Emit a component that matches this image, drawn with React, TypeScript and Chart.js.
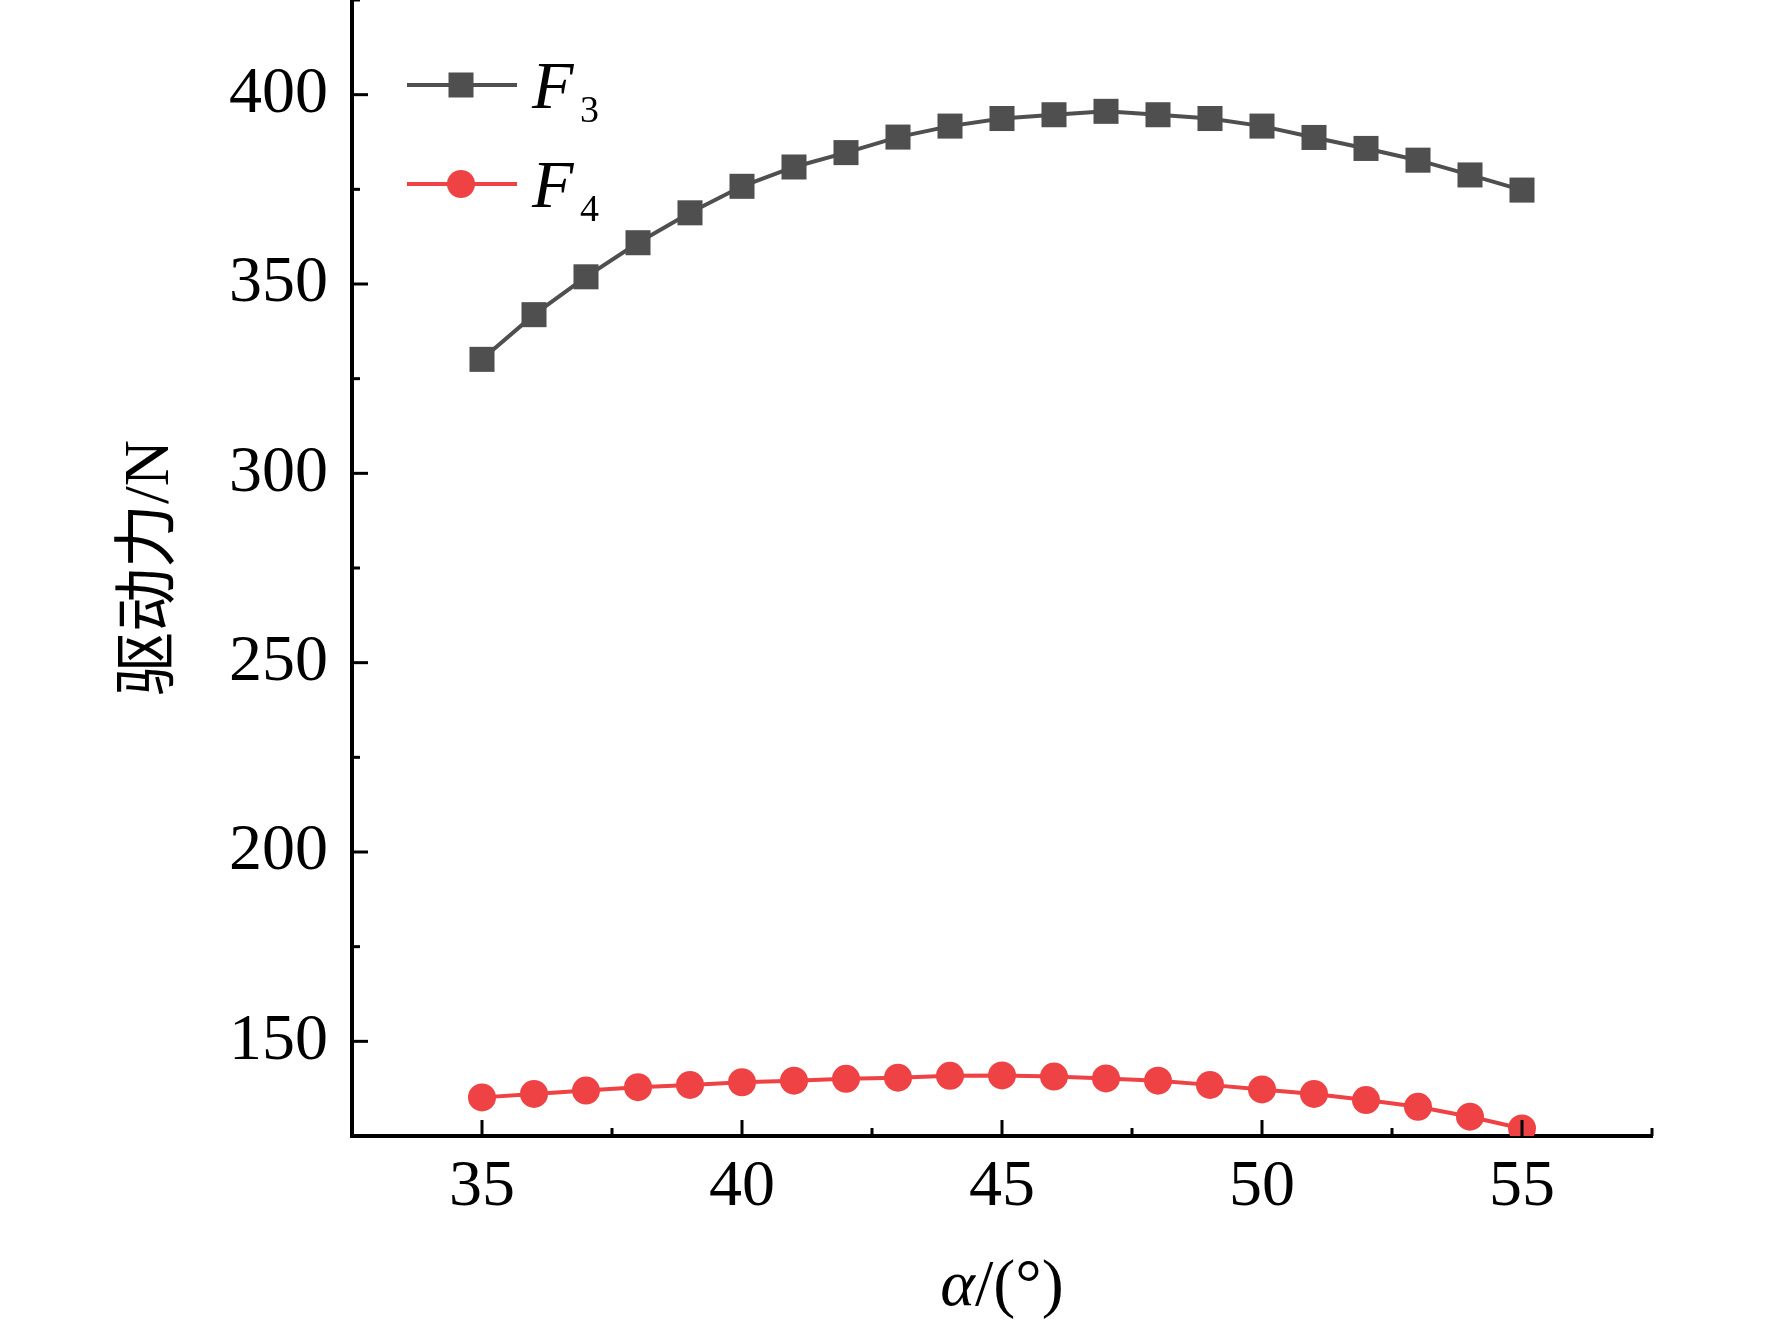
import { useEffect, useRef } from "react"
import { Chart, type ChartConfiguration, type Plugin, registerables } from "chart.js"

Chart.register(...registerables)

// α (degrees) on the x axis
const alphaDeg = [35, 36, 37, 38, 39, 40, 41, 42, 43, 44, 45, 46, 47, 48, 49, 50, 51, 52, 53, 54, 55]

// driving forces (N)
const f3Values = [
  330.1, 341.9, 351.9, 360.9, 368.8, 375.8, 380.9, 384.7, 388.8, 391.7, 393.7, 394.7, 395.6, 394.7, 393.7, 391.7,
  388.7, 385.8, 382.7, 378.8, 374.8,
]
const f4Values = [
  135.2, 136.1, 137.0, 137.9, 138.5, 139.2, 139.6, 140.1, 140.4, 140.9, 141.0, 140.7, 140.2, 139.6, 138.5, 137.3,
  136.1, 134.5, 132.7, 130.1, 127.0,
]

const seriesNames = ["3", "4"] // subscripts of F
const xTitleItalic = "α"
const xTitleRest = "/(°)"
const yTitle = "驱动力/N"

const GREY = "#4f4f4f"
const RED = "#ee4244"
const SERIF = '"Liberation Serif", "Times New Roman", serif'
const CJK = '"Liberation Serif", "Noto Sans CJK SC", serif'

const W = 1772
const H = 1323

// inward ticks, legend and axis titles
const decorations: Plugin<"line"> = {
  id: "decorations",
  afterDraw(chart) {
    const { ctx, chartArea, scales } = chart
    const xs = scales.x
    const ys = scales.y
    ctx.save()

    // ticks pointing into the plot
    ctx.strokeStyle = "#000"
    ctx.lineWidth = 3
    xs.ticks.forEach((t) => {
      const px = xs.getPixelForValue(t.value)
      const len = t.value % 5 === 0 ? 16 : 8
      ctx.beginPath()
      ctx.moveTo(px, chartArea.bottom)
      ctx.lineTo(px, chartArea.bottom - len)
      ctx.stroke()
    })
    ys.ticks.forEach((t) => {
      const py = ys.getPixelForValue(t.value)
      const len = t.value % 50 === 0 ? 16 : 8
      ctx.beginPath()
      ctx.moveTo(chartArea.left, py)
      ctx.lineTo(chartArea.left + len, py)
      ctx.stroke()
    })

    // legend
    const rows = [85, 184]
    chart.data.datasets.forEach((ds, i) => {
      const y = rows[i]
      const color = ds.borderColor as string
      ctx.strokeStyle = color
      ctx.lineWidth = 4
      ctx.beginPath()
      ctx.moveTo(407, y)
      ctx.lineTo(517, y)
      ctx.stroke()
      ctx.fillStyle = color
      if (ds.pointStyle === "rect") {
        ctx.fillRect(461 - 12.5, y - 12.5, 25, 25)
      } else {
        ctx.beginPath()
        ctx.arc(461, y, 14, 0, Math.PI * 2)
        ctx.fill()
      }
      ctx.fillStyle = "#000"
      ctx.textBaseline = "alphabetic"
      ctx.textAlign = "left"
      ctx.font = `italic 68px ${SERIF}`
      ctx.fillText("F", 532, y + 23)
      ctx.font = `38px ${SERIF}`
      ctx.fillText(seriesNames[i], 580, y + 37)
    })

    // x title: italic α followed by upright "/(°)"
    ctx.fillStyle = "#000"
    ctx.textBaseline = "alphabetic"
    ctx.textAlign = "left"
    ctx.font = `italic 66px ${SERIF}`
    const wA = ctx.measureText(xTitleItalic).width
    ctx.font = `66px ${SERIF}`
    const wR = ctx.measureText(xTitleRest).width
    const cx = (chartArea.left + chartArea.right) / 2
    let x0 = cx - (wA + wR) / 2
    ctx.font = `italic 66px ${SERIF}`
    ctx.fillText(xTitleItalic, x0, 1305)
    x0 += wA
    ctx.font = `66px ${SERIF}`
    ctx.fillText(xTitleRest, x0, 1305)

    // y title, rotated
    ctx.translate(151, (chartArea.top + chartArea.bottom) / 2)
    ctx.rotate(-Math.PI / 2)
    ctx.font = `64px ${CJK}`
    ctx.textAlign = "center"
    ctx.textBaseline = "middle"
    ctx.fillText(yTitle, 0, 0)

    ctx.restore()
  },
}

export default function App() {
  const canvasRef = useRef<HTMLCanvasElement>(null)
  const chartRef = useRef<Chart<"line"> | null>(null)

  useEffect(() => {
    if (!canvasRef.current) return
    const ctx = canvasRef.current.getContext("2d")
    if (!ctx) return
    if (chartRef.current) chartRef.current.destroy()

    const config: ChartConfiguration<"line"> = {
      type: "line",
      data: {
        datasets: [
          {
            label: "F3",
            data: alphaDeg.map((a, i) => ({ x: a, y: f3Values[i] })),
            borderColor: GREY,
            backgroundColor: GREY,
            borderWidth: 4,
            pointStyle: "rect",
            pointRadius: 17.7,
            pointBorderWidth: 0,
            tension: 0,
          },
          {
            label: "F4",
            data: alphaDeg.map((a, i) => ({ x: a, y: f4Values[i] })),
            borderColor: RED,
            backgroundColor: RED,
            borderWidth: 4,
            pointStyle: "circle",
            pointRadius: 14,
            pointBorderWidth: 0,
            tension: 0,
          },
        ],
      },
      options: {
        responsive: false,
        animation: false,
        layout: { autoPadding: false, padding: { left: 0, top: 0, right: 120, bottom: 0 } },
        plugins: {
          legend: { display: false },
          tooltip: { enabled: false },
        },
        scales: {
          x: {
            type: "linear",
            min: 32.5,
            max: 57.5,
            afterFit: (scale) => {
              scale.height = H - 1136
              scale.paddingLeft = 0
              scale.paddingRight = 0
            },
            ticks: {
              stepSize: 2.5,
              autoSkip: false,
              maxRotation: 0,
              padding: 12,
              color: "#000",
              font: { family: SERIF, size: 66 },
              callback: (v) => (Number(v) % 5 === 0 ? String(v) : ""),
            },
            grid: { display: true, drawOnChartArea: false, drawTicks: false },
            border: { display: true, color: "#000", width: 4 },
          },
          y: {
            type: "linear",
            min: 125,
            max: 425,
            afterFit: (scale) => {
              scale.width = 352
              scale.paddingTop = 0
              scale.paddingBottom = 0
            },
            ticks: {
              stepSize: 25,
              autoSkip: false,
              padding: 24,
              color: "#000",
              font: { family: SERIF, size: 66 },
              callback: (v) => (Number(v) % 50 === 0 ? String(v) : ""),
            },
            grid: { display: true, drawOnChartArea: false, drawTicks: false },
            border: { display: true, color: "#000", width: 4 },
          },
        },
      },
      plugins: [decorations],
    }

    chartRef.current = new Chart(ctx, config)
    return () => {
      if (chartRef.current) {
        chartRef.current.destroy()
        chartRef.current = null
      }
    }
  }, [])

  return (
    <div style={{ position: "fixed", left: 0, top: 0, width: W, height: H, background: "#fff" }}>
      <canvas ref={canvasRef} width={W} height={H} style={{ width: W, height: H }}></canvas>
    </div>
  )
}
